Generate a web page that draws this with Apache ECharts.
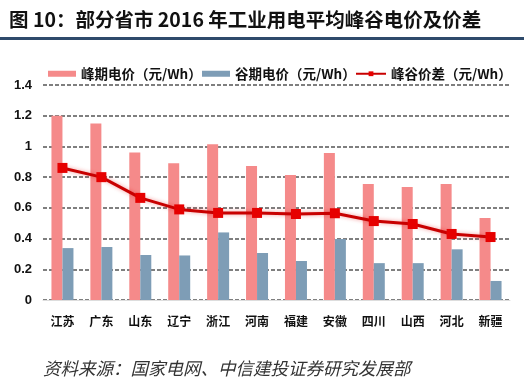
<!DOCTYPE html>
<html>
<head>
<meta charset="utf-8">
<script src="https://cdn.jsdelivr.net/npm/echarts@6/dist/echarts.min.js"></script>
<style>html,body{margin:0;padding:0;background:#fff;}#c{width:524px;height:389px;}</style>
</head>
<body>
<div id="c"></div>
<script>
const categories = ['江苏','广东','山东','辽宁','浙江','河南','福建','安徽','四川','山西','河北','新疆'];
const peakPrice = [1.20,1.15,0.96,0.89,1.015,0.872,0.814,0.957,0.755,0.736,0.755,0.534];
const valleyPrice = [0.338,0.345,0.293,0.29,0.44,0.306,0.254,0.397,0.24,0.24,0.33,0.124];
const spread = [0.86,0.80,0.665,0.59,0.567,0.567,0.56,0.565,0.514,0.495,0.43,0.41];
const yTicks = [0,0.2,0.4,0.6,0.8,1,1.2,1.4];
const seriesNames = ['峰期电价（元/Wh）','谷期电价（元/Wh）','峰谷价差（元/Wh）'];

const chart = echarts.init(document.getElementById('c'));
const cjk = '"Noto Sans CJK SC", sans-serif';
const legendBase = {
  top: 62, itemWidth: 28, itemHeight: 6,
  textStyle: {fontFamily: cjk, fontWeight: 'bold', fontSize: 13.5, color: '#111'}
};
chart.setOption({
  animation: false,
  backgroundColor: '#fff',
  title: {
    text: '图 10：部分省市 2016 年工业用电平均峰谷电价及价差',
    left: 4, top: 5,
    textStyle: {fontFamily: cjk, fontWeight: 'bold', fontSize: 19.5, color: '#111'}
  },
  graphic: [
    {type: 'rect', left: 0, top: 37, shape: {width: 524, height: 3}, style: {fill: '#2E4A6B'}},
    {type: 'text', left: 43, top: 360, style: {text: '资料来源：国家电网、中信建投证券研究发展部', font: 'italic 17.5px "Noto Sans CJK SC", serif', fill: '#333'}}
  ],
  legend: [
    Object.assign({}, legendBase, {left: 43, data: [{name: seriesNames[0], icon: 'rect'}]}),
    Object.assign({}, legendBase, {left: 197, data: [{name: seriesNames[1], icon: 'rect'}]}),
    Object.assign({}, legendBase, {left: 350, itemWidth: 30, data: [{name: seriesNames[2]}]})
  ],
  grid: {left: 43, right: 14, top: 85, bottom: 89},
  xAxis: {
    type: 'category', data: categories,
    axisLine: {lineStyle: {color: '#ddd', width: 1}},
    axisTick: {show: false},
    axisLabel: {fontFamily: cjk, fontWeight: 'bold', fontSize: 12, color: '#111', margin: 15}
  },
  yAxis: {
    type: 'value', min: 0, max: 1.4, interval: 0.2,
    axisLine: {show: false}, axisTick: {show: false},
    axisLabel: {fontFamily: 'Liberation Sans, Arial, sans-serif', fontWeight: 'bold', fontSize: 13, color: '#111', margin: 11,
      formatter: v => { const t = yTicks.find(x => Math.abs(x - v) < 1e-6); return String(t !== undefined ? t : v); }},
    splitLine: {lineStyle: {type: [4, 2], color: '#555', width: 1.5}}
  },
  series: [
    {name: seriesNames[0], type: 'bar', data: peakPrice, barWidth: 11, barGap: '0%',
      itemStyle: {color: '#F58A8A'}},
    {name: seriesNames[1], type: 'bar', data: valleyPrice, barWidth: 11,
      itemStyle: {color: '#7E9DB6'}},
    {name: seriesNames[2], type: 'line', data: spread, symbol: 'rect', symbolSize: 10,
      lineStyle: {color: '#C80000', width: 3, shadowColor: 'rgba(230,0,0,0.4)', shadowBlur: 4},
      itemStyle: {color: '#E60000'}, z: 5}
  ]
});
</script>
</body>
</html>
